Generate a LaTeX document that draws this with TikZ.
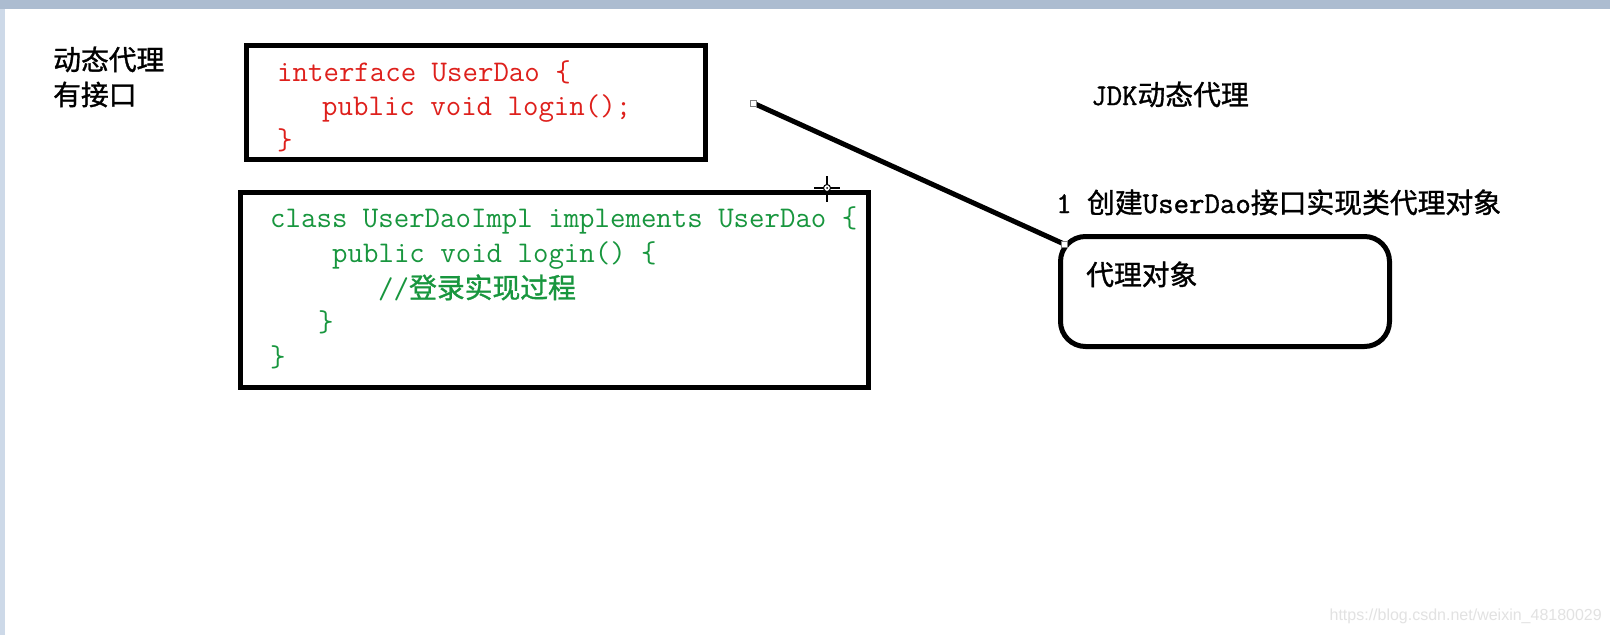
\documentclass[tikz,border=0pt]{standalone}
\usepackage{fontspec}
\newfontfamily\cjk{Noto Sans CJK SC}[FakeBold=1.2]
\newfontfamily\monob{Latin Modern Mono}[FakeBold=1.2]
\newfontfamily\wmfont{Liberation Sans}
\definecolor{codered}{RGB}{222,32,28}
\definecolor{codegreen}{RGB}{24,150,62}
\definecolor{topband}{RGB}{172,188,208}
\definecolor{sideband}{RGB}{205,217,232}
\definecolor{wmgray}{RGB}{226,226,226}
\newcommand{\cj}[1]{{\cjk\fontsize{27.8}{30}\selectfont #1}}
\begin{document}
\begin{tikzpicture}[x=1pt,y=-1pt,
  codebox/.style={draw, line width=5pt, inner sep=0pt},
  txt/.style={anchor=base west, inner sep=0pt, font=\ttfamily\fontsize{30}{34}\selectfont},
  btxt/.style={anchor=base west, inner sep=0pt, font=\monob\fontsize{30}{34}\selectfont},
  handle/.style={draw=gray, fill=white, line width=0.8pt, minimum size=6pt, inner sep=0pt},
  link/.style={line width=5pt}]
\useasboundingbox (0,0) rectangle (1610,635);
\fill[white] (0,0) rectangle (1610,635);
\fill[sideband] (0,0) rectangle (5,635);
\fill[topband] (0,0) rectangle (1610,9);

% left labels
\node[txt] (l1) at (53,70) {\cj{动态代理}};
\node[txt] (l2) at (53,105) {\cj{有接口}};

% interface box
\node[codebox, minimum width=459pt, minimum height=114pt] (ibox) at (476,102.5) {};
\node[txt, text=codered] (i1) at (277,81) {interface UserDao \{};
\node[txt, text=codered] (i2) at (322,115) {public void login();};
\node[txt, text=codered] (i3) at (277,149) {\}};

% class box
\node[codebox, minimum width=628pt, minimum height=195pt] (cbox) at (554.5,290) {};
\node[txt, text=codegreen] (c1) at (270,227) {class UserDaoImpl implements UserDao \{};
\node[txt, text=codegreen] (c2) at (332,262) {public void login() \{};
\node[txt, text=codegreen] (c3) at (378,298) {//\cj{登录实现过程}};
\node[txt, text=codegreen] (c4) at (318,331) {\}};
\node[txt, text=codegreen] (c5) at (270,366) {\}};

% right side
\node[btxt] (jdk) at (1091,105) {JDK\cj{动态代理}};
\node[btxt] (step1) at (1056,213) {1 \cj{创建}UserDao\cj{接口实现类代理对象}};
\node[draw, line width=5pt, rounded corners=25pt, minimum width=329pt, minimum height=110pt, inner sep=0pt] (pbox) at (1225,291.5) {};
\node[txt] (ptxt) at (1086,285) {\cj{代理对象}};

% connector
\coordinate (ls) at (753,103);
\coordinate (le) at (1064,244);
\draw[link] (ls) -- (le);
\node[handle] (h1) at (ls) {};
\node[handle] (h2) at (le) {};

% cursor
\coordinate (cur) at (827,188);
\draw[line width=1.3pt] ([xshift=-13pt]cur) -- ([xshift=13pt]cur);
\draw[line width=1.3pt] ([yshift=12pt]cur) -- ([yshift=-14pt]cur);
\draw[line width=1pt, fill=white] (cur) circle (3.5pt);
\fill (cur) circle (1pt);

% watermark
\node[anchor=east, inner sep=0pt, text=wmgray, font=\wmfont\fontsize{16}{18}\selectfont] (wm) at (1602,616) {https://blog.csdn.net/weixin\_48180029};
\end{tikzpicture}
\end{document}
